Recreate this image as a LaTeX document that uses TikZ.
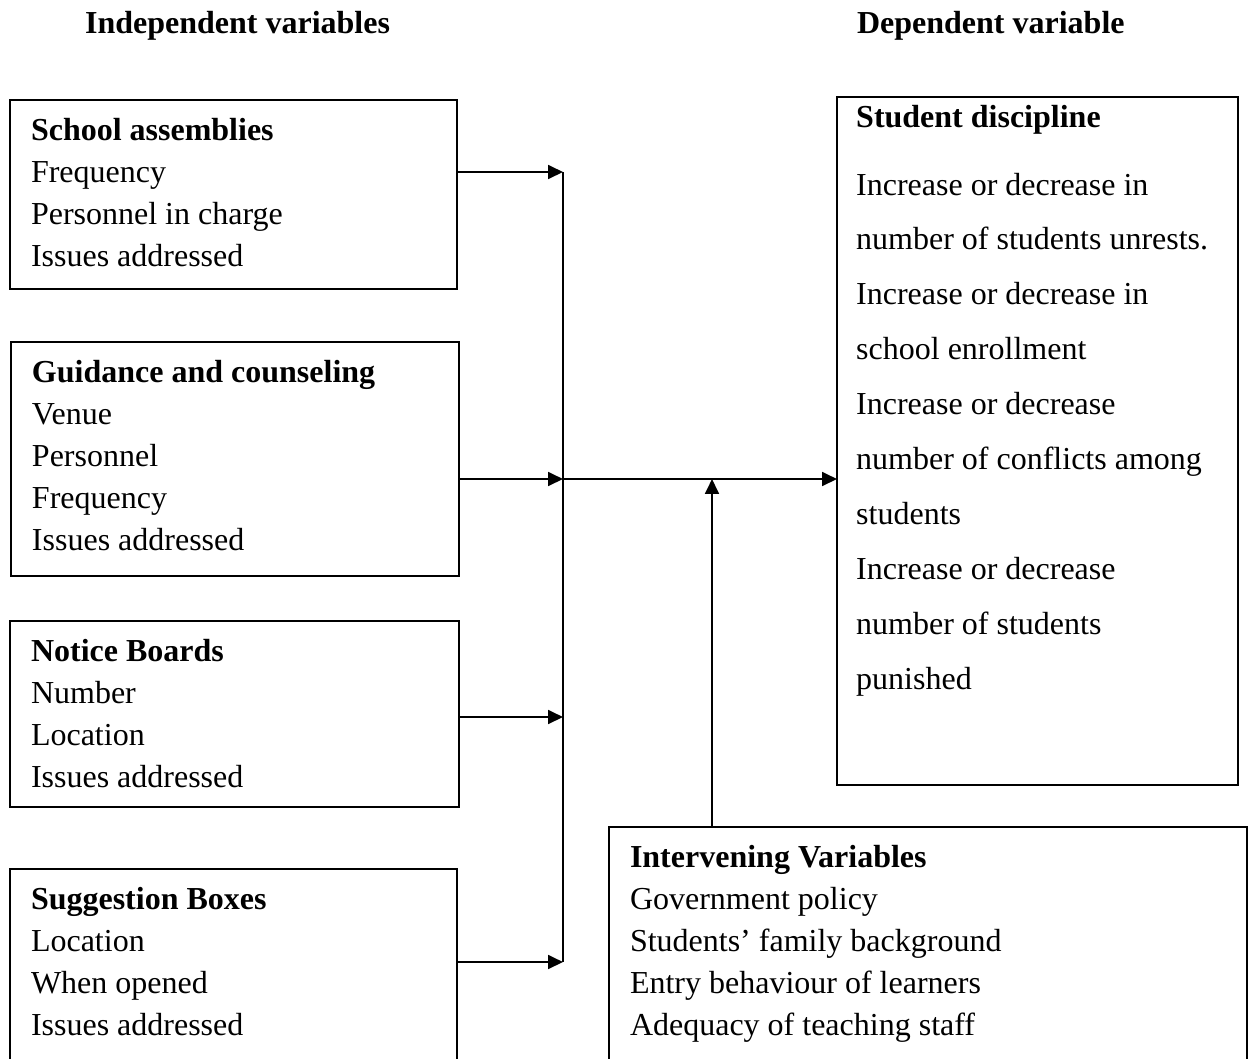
\documentclass[tikz,border=0pt]{standalone}
\usepackage{fontspec}
\setmainfont{Liberation Serif}
\usetikzlibrary{arrows.meta}

\begin{document}
\begin{tikzpicture}[x=0.375pt,y=-0.375pt,>={Triangle[length=5.6pt,width=5.2pt]},
  line width=0.8pt,
  var node/.style={draw,rectangle,anchor=north west,align=flush left,outer sep=0pt,
    inner xsep=7.875pt,inner ysep=0pt,text height=15pt,font=\fontsize{12}{15.75}\selectfont},
  dep node/.style={var node,inner xsep=7.2pt,text height=11.25pt,font=\fontsize{12}{20.6}\selectfont},
  head node/.style={anchor=base west,inner sep=0pt,font=\fontsize{12}{14}\selectfont\bfseries}]

  \useasboundingbox (0,0) rectangle (1250,1058);

  % column titles
  \node[head node] (indep) at (84,33) {Independent variables};
  \node[head node] (dep) at (856,33) {Dependent variable};

  % independent variables
  \node[var node,text width=151.9pt,text depth=55.9pt] (sa) at (10,100)
    {\textbf{School assemblies}\\Frequency\\Personnel in charge\\Issues addressed};
  \node[var node,text width=152.25pt,text depth=72.75pt] (gc) at (11,342)
    {\textbf{Guidance and counseling}\\Venue\\Personnel\\Frequency\\Issues addressed};
  \node[var node,text width=152.6pt,text depth=54.75pt] (nb) at (10,621)
    {\textbf{Notice Boards}\\Number\\Location\\Issues addressed};
  \node[var node,text width=151.9pt,text depth=64.1pt] (sb) at (10,869)
    {\textbf{Suggestion Boxes}\\Location\\When opened\\Issues addressed};

  % dependent and intervening variables
  \node[dep node,text width=136pt,text depth=246.75pt] (sd) at (837,97)
    {\textbf{Student discipline}\\[4.9pt]Increase or decrease in\\number of students unrests.\\
     Increase or decrease in\\school enrollment\\Increase or decrease\\
     number of conflicts among\\students\\Increase or decrease\\number of students\\punished};
  \node[var node,text width=223.5pt,text depth=80pt] (iv) at (609,827)
    {\textbf{Intervening Variables}\\Government policy\\Students' family background\\
     Entry behaviour of learners\\Adequacy of teaching staff};

  \coordinate (j1) at (563,172);
  \coordinate (j2) at (563,479);
  \coordinate (j3) at (563,717);
  \coordinate (j4) at (563,962);
  \coordinate (up) at (712,479);

  \draw[->] (sa.east |- j1) -- (j1);
  \draw[->] (gc.east |- j2) -- (j2);
  \draw[->] (nb.east |- j3) -- (j3);
  \draw[->] (sb.east |- j4) -- (j4);
  \draw (j1) -- (j4);
  \draw[->] (j2) -- (sd.west |- j2);
  \draw[->] (iv.north -| up) -- (up);

\end{tikzpicture}
\end{document}
